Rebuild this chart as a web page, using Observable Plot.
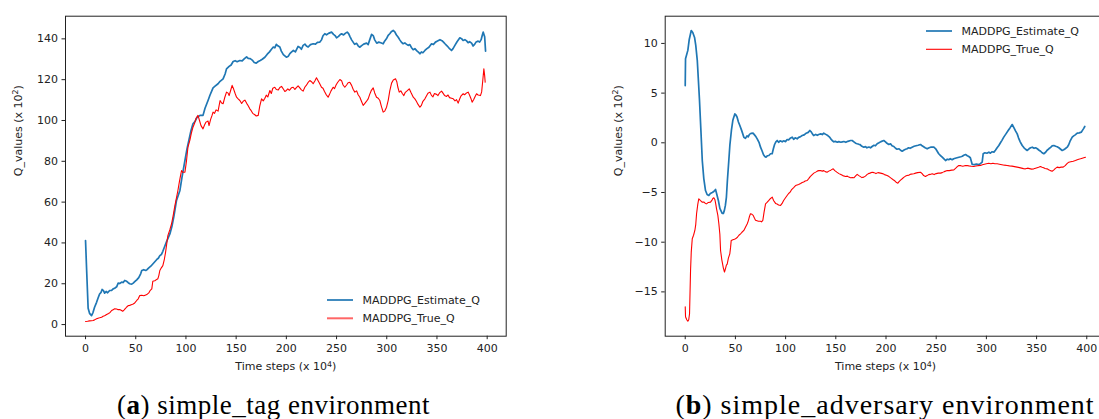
<!DOCTYPE html>
<html><head><meta charset="utf-8">
<script src="https://cdn.jsdelivr.net/npm/d3@7"></script>
<script src="https://cdn.jsdelivr.net/npm/@observablehq/plot@0.6"></script>
<style>
body{margin:0;width:1099px;height:419px;overflow:hidden;position:relative;background:#fff;font-family:"DejaVu Sans",sans-serif}
.panel{position:absolute;top:0}
.panel svg{max-width:none !important}
.cap{position:absolute;font-family:"Liberation Serif",serif;white-space:nowrap;transform:translateX(-50%);color:#000;line-height:30px}
</style></head><body>
<div id="pa" class="panel" style="left:0;width:549px"></div>
<div id="pb" class="panel" style="left:600px;width:520px"></div>
<div class="cap" style="left:273.5px;top:390px;font-size:27px;letter-spacing:0.5px">(<b>a</b>) simple_tag environment</div>
<div class="cap" style="left:885px;top:389.5px;font-size:28px;letter-spacing:1px">(<b>b</b>) simple_adversary environment</div>
<script>
const seriesNames = ["MADDPG_Estimate_Q", "MADDPG_True_Q"];
const xTicks = [0, 50, 100, 150, 200, 250, 300, 350, 400];
const tagYTicks = [0, 20, 40, 60, 80, 100, 120, 140];
const advYTicks = [-15, -10, -5, 0, 5, 10];
const xLabelParts = ["Time steps (x 10", "4", ")"];
const yLabelParts = ["Q_values (x 10", "2", ")"];

const tagEstimate = [[0,41.2],[1,28],[2.6,8],[4,5.5],[6,4.4],[7.5,6],[9,8.5],[11,10.9],[12.5,13],[14,15],[15.5,15.8],[16.5,17.2],[18,16.5],[19,15.4],[20.5,16.2],[22,15.6],[24,16.7],[26,16.8],[27.5,17.5],[29,17.8],[31,18.5],[32.5,20.3],[34,20.1],[36,20.8],[37.5,20.6],[39,21.6],[41,21.2],[42.5,20.5],[44,20],[46,19.8],[47.5,20.3],[49,21],[51,21.9],[53,23],[55,25],[56,26.5],[58,26.9],[60,26.5],[61,26.8],[63,27.8],[65,28.6],[67,29.7],[69,30.8],[71,31.9],[72.5,32.5],[74,33.8],[75.5,34.3],[77,35.9],[79,38.5],[81,41],[84,44.4],[86,48],[88,53],[90.6,60.8],[94,65.7],[96,72],[99,80.4],[101,86],[103,90.5],[105,95],[107,98.4],[109,99.5],[111,101.5],[114,102.5],[117,102.5],[119,106],[122,109.8],[124,112.5],[127,116],[129,116.8],[132,118],[134,119.2],[137,120.4],[139,122.8],[140.4,125.3],[143,126.5],[145,127.2],[147,128.9],[149,129.3],[151,128.8],[153.7,129.4],[156,129.2],[158,130.2],[160.4,131.2],[162,130.4],[164,130.3],[166,129.6],[168,128.4],[170,128.1],[172,128.9],[174,129.4],[176,130],[178.6,131],[181,132.5],[183,133.5],[185,134.8],[187,136],[188.5,135.6],[190,137.3],[191.5,136.6],[193.5,136],[195,134],[197,132.3],[200,131],[202,131.5],[203.5,132.8],[205,133.5],[207,134.3],[209,133.6],[211.7,136.3],[213.5,135.8],[215,134.9],[216.7,136.8],[218.5,137.4],[220,136.5],[221.7,136],[224,137.2],[226.7,137.6],[229,137.4],[231,138.3],[233.4,138.4],[235,139.5],[236.5,141.5],[238.3,142.5],[240,142],[242,142.7],[245,143.3],[247,142.2],[248.5,141.6],[250,140.5],[252,141.2],[253.5,142],[255,142.5],[257,141.9],[259,142.8],[260.6,143.3],[262,142.6],[263.5,141],[265,139.5],[266.5,138.4],[268,137.3],[270,137.8],[271.5,136.6],[273,135.9],[275,136.7],[277,137.4],[279.9,137.9],[281.5,137.2],[283,139.5],[284.9,142.2],[286.5,141.6],[288,139.5],[290,137.9],[292,138.4],[294,138.1],[296.4,137.6],[298,139],[300,140.3],[301.4,141.7],[303,142.5],[304.5,143.5],[306.4,144.1],[308,143.4],[309.5,142],[311.4,140.8],[313,139.5],[314.5,138.4],[316.3,137.6],[318,138],[319.5,137.4],[321.3,136.8],[323,137.2],[324.5,135.8],[326.3,134.7],[328,135.2],[330,134.1],[331.5,133.5],[333,132.7],[334.5,133.6],[336,133.2],[338,134.3],[340,135.2],[342,135.9],[344.6,137.6],[346.5,137.2],[348.5,138.4],[350.5,138.9],[353,139.6],[355,139.1],[356.5,138.4],[358,137.6],[360,136.6],[362,135.5],[364.5,134.3],[366,135.2],[368,136.9],[370,138.6],[372.8,140.5],[374.5,140.1],[376,139.2],[377.8,139.6],[379.5,139],[381,138.1],[382.5,138.6],[384.5,137.9],[386,136.5],[387.5,137.3],[389,138.5],[391,138.9],[392.5,138.4],[394,139.6],[395,141.5],[396,143.3],[397.5,141],[398.4,134]];

const tagTrue = [[0,1.5],[2,1.6],[4,1.8],[6,1.9],[7.6,2],[9,2.3],[11,2.8],[12.5,3.1],[14,3.3],[16,3.6],[17.5,4.1],[19,4.3],[21,4.9],[23,5.4],[24.5,6],[26,6.9],[27.5,7.3],[29,7.7],[31,7.6],[32.5,7.3],[34,7.4],[35.5,7],[37,6.5],[38.5,7.2],[40,8],[41,8.6],[42.5,9.3],[44,9.4],[45.5,9.7],[47.5,10.1],[49,10.6],[51,11.8],[52.5,12.6],[54,14.2],[56,14.4],[58,14.1],[60,14.5],[61,14.7],[63,15.5],[64.5,16.8],[66,17.5],[67,21.2],[69,21.5],[70.5,22],[72,22.4],[73,24],[74,26.5],[75.5,27.8],[77,28.9],[78.5,32],[79.7,35.4],[81,40],[82,43.6],[84,46.5],[85.7,49.4],[87.5,54],[89,58.3],[90.5,62],[92,65.7],[93.5,70],[95,74],[95.6,75.5],[97,74.6],[99,74.7],[100.5,80],[102,86.9],[104,90.5],[105.5,94],[107,96.7],[108.5,98.5],[110,101],[112,102.5],[113.5,100],[115,97.5],[117,95.9],[118.5,97.8],[120,99.2],[122,99.7],[123,97.5],[124.5,100.4],[126,102.5],[127,104.1],[128.5,103.5],[130,105.2],[132,104.6],[134,109.8],[135.5,108.6],[137,108.2],[138.5,111],[140.4,113.9],[142,113.4],[143,112.2],[144.5,114.7],[146,117.2],[147.5,115.4],[149,113.2],[150.4,111.4],[152,110.6],[153.7,109.8],[155.5,108.3],[157,109.4],[158.7,110],[160.5,108.4],[162,107.2],[163.6,105.7],[165,104.8],[166.5,103.5],[168.6,102.8],[170,102.2],[172,102.5],[173.5,107],[175.3,110.6],[177,109.6],[178.6,110.9],[180,112.4],[181.5,111.5],[183.6,114.7],[185,113.2],[186.5,115.8],[188.5,116.3],[190,115.2],[192,115],[193.5,116.2],[195.2,116.7],[197,115.4],[198.5,114.2],[200,114.7],[201.5,115.5],[203,114.8],[205,116],[206.8,116.3],[208.5,115.2],[210,116.1],[211.7,117],[213,116.2],[215,115],[216.7,114.4],[218.5,116.4],[220,117.3],[221.5,118.5],[223.4,119.6],[225,119],[226.7,118],[228.5,119.5],[230,120.9],[231.5,119.6],[233,118.2],[235,116.3],[236.5,115.8],[238,114.2],[239.5,112.8],[241.6,111.4],[243,112.8],[244.5,114.5],[246.6,116.3],[248,115.6],[249.5,117.4],[251,118.6],[253.3,120.1],[255,119.5],[256.5,117.4],[258.2,116.3],[260,117.4],[261.5,118.5],[263.2,118.7],[265,117.2],[266.5,115.3],[268.2,113.9],[270,114.5],[271.5,112.6],[273.2,111.4],[275,109.2],[276.5,107.4],[278,108.3],[279.5,109.2],[281.5,110.6],[283,112.8],[284.5,114.6],[286.5,116],[288,113.5],[289.8,111.4],[291.5,110.9],[293.1,109.8],[294.5,107.2],[296.4,104.1],[298,104.6],[299.8,106.5],[301.5,110],[303,114.5],[304.8,118.3],[306.5,119.8],[308.8,120.4],[310,119],[311,116.4],[312.4,113.9],[314,114.5],[315.5,113.2],[317,112.2],[318.5,113.8],[320.5,114.6],[322.4,115.5],[324,113.8],[326.4,111.4],[328,110.6],[329.5,109.4],[331,108],[333,106.5],[334.5,107.4],[336,109.4],[338,110.6],[339.5,112],[341,113.3],[343,113.9],[344.5,112.3],[346,111.6],[347.5,113.2],[349.6,112.8],[351,112.2],[352.5,113.5],[354.6,114.4],[356,113.4],[357.5,112.3],[359.6,111.8],[361,112.5],[362.5,111.2],[364.5,110.9],[366.2,110.6],[368,109.6],[369.5,110.2],[371.1,108.5],[372.5,110.4],[374,112.1],[376.1,113.1],[377.5,112.6],[379,113.3],[381.1,113.9],[382.5,112.4],[383.8,110.8],[385,109],[386.5,110.2],[388,111.8],[389.4,113.1],[391,112.5],[393.3,112.2],[394.5,114],[395.5,119],[396.7,125.3],[397.5,122],[398,118.8]];

const advEstimate = [[0,5.76],[0.3,8.45],[2.6,9.3],[4,10.4],[6,11.3],[7.5,11.1],[9.3,10.6],[10.5,9.8],[12,8.3],[13,6.5],[14.2,4.3],[15.5,1.5],[17,-1.8],[18.5,-3.6],[20.2,-4.8],[21.8,-5.2],[23.5,-5.3],[25,-5.1],[26.9,-5.0],[28.5,-4.9],[30.2,-4.7],[31.5,-5.2],[33,-5.8],[34.5,-6.6],[36.8,-7.1],[38,-7.1],[39,-6.8],[40,-6.3],[41,-5.5],[42,-3.8],[43.4,-1.8],[44.5,-0.2],[46,1.24],[47.5,2.3],[49.4,2.9],[50.5,2.8],[51.6,2.6],[53,2.1],[54.4,1.74],[56,1.3],[57,1.0],[58.4,0.56],[60,0.45],[61.5,0.7],[62.7,0.6],[64,0.85],[65.5,0.95],[67.7,0.97],[69,0.8],[70.5,0.6],[71.7,0.4],[73.5,0.05],[75,-0.44],[76.5,-0.8],[78,-1.2],[79.3,-1.38],[80.5,-1.45],[82,-1.3],[83.3,-1.28],[85,-1.1],[86.6,-1.1],[87.8,-0.6],[89,-0.17],[90.3,0.1],[91.6,0.23],[93,0.05],[94.5,0.2],[96.6,0.1],[98,0.2],[100,0.12],[101.5,0.33],[103,0.3],[104.5,0.45],[106.6,0.57],[108,0.35],[109.5,0.5],[111.5,0.4],[113,0.55],[114.5,0.6],[116.5,0.73],[118.5,0.8],[120.5,0.97],[122.5,1.05],[124.1,1.24],[125.5,1.1],[127,0.85],[128,0.73],[130,0.85],[131.5,0.75],[133,0.84],[135,0.9],[136.5,0.83],[138,0.97],[140,0.85],[142,0.73],[143.5,0.6],[145,0.4],[146.4,0.23],[148,0.1],[149.5,0.15],[151.4,0.06],[153,0.12],[155,0.06],[156.5,0.1],[158,0.13],[160,0.05],[162,0.15],[164.7,0.23],[166.3,0.23],[168,0.1],[169.7,-0.04],[171.3,-0.1],[173,-0.15],[174,-0.17],[176,-0.35],[177.9,-0.44],[179.5,-0.38],[181,-0.5],[183,-0.42],[184.6,-0.5],[186.5,-0.35],[188,-0.25],[189.5,-0.3],[191.2,-0.1],[193,0],[195,0.12],[197.8,0.23],[199.5,0.1],[201,-0.05],[202.8,-0.17],[204.5,-0.1],[206,-0.3],[207.8,-0.37],[209.5,-0.55],[211,-0.65],[213,-0.6],[214.5,-0.75],[216.1,-0.84],[218,-0.72],[219.5,-0.65],[221,-0.6],[222.5,-0.5],[224,-0.55],[226,-0.44],[228,-0.35],[230,-0.3],[232,-0.25],[234.4,-0.17],[236,-0.3],[237.5,-0.4],[239,-0.5],[241,-0.6],[243,-0.5],[245,-0.42],[247.7,-0.44],[249.5,-0.6],[251,-0.85],[252.5,-1.1],[254.3,-1.28],[256,-1.45],[257.5,-1.6],[259.3,-1.78],[261,-1.65],[262.5,-1.7],[264,-1.6],[265.9,-1.7],[267.5,-1.6],[269,-1.55],[270.8,-1.5],[272.6,-1.45],[274.5,-1.4],[276,-1.35],[277.5,-1.25],[279.2,-1.18],[281,-1.3],[282.5,-1.38],[284,-1.5],[285.9,-2.18],[288,-2.2],[290,-2.15],[292.5,-2.18],[294,-2.1],[295.8,-1.95],[296.8,-1.1],[298.5,-1.0],[300.5,-1.05],[302.5,-0.94],[304,-1.05],[305.5,-0.9],[307.5,-0.94],[309,-0.75],[310.7,-0.5],[312.4,-0.27],[314,0],[315.5,0.25],[317.3,0.57],[319.5,0.9],[321.7,1.24],[323.5,1.5],[325.7,1.84],[327.5,1.5],[329,1.2],[330.7,0.9],[332,0.5],[333.7,0.1],[335.7,-0.27],[337.5,-0.5],[339,-0.65],[340.7,-0.77],[342.5,-0.6],[344,-0.5],[345.7,-0.44],[347.5,-0.55],[349,-0.5],[350.7,-0.6],[352.5,-0.75],[354,-0.85],[355.5,-1.0],[357.2,-1.1],[359,-0.95],[360.5,-0.75],[362.2,-0.6],[364,-0.45],[365.5,-0.3],[367.2,-0.27],[369,-0.35],[370.5,-0.4],[372.2,-0.5],[374,-0.65],[375.5,-0.77],[377,-0.7],[378.5,-0.6],[380.5,-0.44],[382,-0.2],[383.5,0.2],[385.5,0.57],[387,0.7],[388.5,0.8],[390.5,0.97],[392.5,1.0],[394.5,1.07],[396,1.3],[397,1.45],[398,1.64]];

const advTrue = [[0,-16.5],[0.3,-17.5],[1.5,-17.8],[2.6,-17.95],[3.5,-17.8],[4.3,-17.2],[5.3,-12.85],[6,-11],[7,-9.66],[8.3,-9.3],[9.6,-8.82],[10.5,-8.2],[11.3,-7.14],[12.5,-6.2],[13.5,-5.63],[15,-5.8],[16.8,-5.97],[18.5,-5.95],[20,-6.1],[21.2,-6.14],[23,-6.0],[25.2,-5.97],[26.5,-5.8],[27.5,-5.6],[28.5,-5.53],[29.5,-5.7],[30.3,-6.1],[31.2,-6.64],[32.5,-7.3],[33.5,-8.15],[34.5,-9.2],[35.2,-10.84],[36.5,-11.8],[38,-12.6],[39.1,-13.0],[40,-12.7],[41,-12.3],[41.8,-12.2],[43,-11.6],[44.4,-11.17],[45.2,-10.5],[45.8,-9.83],[47.5,-9.75],[49,-9.7],[50.1,-9.66],[52,-9.5],[53.5,-9.3],[55.1,-9.16],[56.5,-9.0],[58.4,-8.82],[60,-8.5],[61.8,-8.15],[63,-7.8],[64,-7.4],[65,-7.14],[66.5,-7.2],[67.7,-7.3],[69,-7.6],[70,-7.8],[71.5,-7.85],[73,-7.9],[75,-7.9],[76,-7.95],[77.3,-7.8],[78.5,-7.0],[80,-6.14],[81.5,-6.0],[83.3,-5.8],[85,-5.6],[86.7,-5.47],[88,-5.8],[90,-6.1],[91.5,-6.15],[93,-6.25],[95,-6.3],[96.5,-6.1],[98,-5.8],[99.9,-5.53],[101.5,-5.3],[103,-5.1],[104.5,-4.97],[106,-4.7],[108,-4.5],[109.9,-4.3],[111.5,-4.25],[113,-4.2],[114.9,-4.1],[116.5,-4.0],[118,-3.95],[119.5,-3.85],[121.5,-3.79],[123,-3.6],[124.5,-3.4],[126,-3.25],[128.1,-3.05],[130,-2.95],[131.5,-2.85],[133,-2.8],[134.7,-2.79],[136.5,-2.85],[138,-2.8],[139.5,-2.9],[141.3,-2.96],[143,-2.85],[145,-2.75],[147.4,-2.62],[149,-2.8],[151,-2.95],[153.1,-3.1],[155,-3.2],[157,-3.3],[159.7,-3.39],[161.5,-3.35],[163,-3.45],[164.6,-3.52],[166.5,-3.5],[168,-3.52],[170,-3.3],[171.3,-3.18],[173,-3.3],[174.5,-3.4],[176,-3.5],[177.9,-3.45],[179.5,-3.35],[181,-3.2],[182.5,-3.1],[184,-3.05],[186.2,-2.96],[188,-3.0],[190,-3.1],[192,-3.0],[194.5,-3.05],[196.5,-3.1],[198.5,-3.2],[201.1,-3.29],[203,-3.4],[205,-3.55],[207.2,-3.72],[209,-3.85],[210.5,-4.0],[211.8,-4.06],[213,-3.9],[214.5,-3.75],[216.1,-3.62],[218,-3.45],[219.5,-3.35],[221,-3.29],[223,-3.25],[225,-3.15],[227.7,-3.12],[229.5,-3.05],[231.5,-3.0],[234.4,-2.96],[236,-3.1],[237.5,-3.3],[239.3,-3.39],[241,-3.3],[242.5,-3.2],[244,-3.18],[246,-3.12],[248,-3.2],[250,-3.1],[252,-3.05],[254.3,-3.05],[256,-3.0],[258,-2.9],[261,-2.79],[263,-2.8],[265.5,-2.75],[267.6,-2.72],[269.5,-2.55],[271,-2.4],[272.5,-2.28],[274.5,-2.3],[276.5,-2.35],[278.5,-2.3],[280.8,-2.28],[282.5,-2.32],[285,-2.36],[287.5,-2.38],[289.5,-2.34],[291.5,-2.3],[294.1,-2.28],[296,-2.2],[298,-2.15],[300,-2.1],[302.4,-2.05],[304.5,-2.1],[306.5,-2.05],[308.5,-2.1],[310.7,-2.11],[313,-2.15],[315.5,-2.2],[318,-2.25],[320.6,-2.28],[323,-2.32],[325.5,-2.35],[328,-2.4],[330.6,-2.45],[333,-2.5],[335,-2.55],[337,-2.6],[338.9,-2.62],[341,-2.55],[343,-2.6],[345,-2.65],[347.2,-2.62],[349,-2.55],[350.5,-2.5],[352,-2.45],[353.8,-2.38],[355.5,-2.45],[357,-2.5],[358.5,-2.58],[360.5,-2.62],[362,-2.7],[363.8,-2.8],[365.5,-2.86],[367,-2.75],[368.5,-2.6],[370.5,-2.45],[372.5,-2.5],[374.5,-2.45],[376.5,-2.45],[378.5,-2.3],[380.3,-2.1],[382.1,-1.95],[384,-1.9],[386.5,-1.85],[388.7,-1.78],[390.5,-1.7],[392,-1.65],[393.7,-1.61],[395.5,-1.55],[397,-1.5],[398.7,-1.45]];

const BLUE = "#1f77b4", RED = "#ff0000", INK = "#222";
const FS = 11;

function withSuperscript(svg, parts) {
  const joined = parts.join("");
  d3.select(svg).selectAll("text").filter(function () { return this.textContent === joined; })
    .each(function () {
      const t = d3.select(this);
      t.text(null);
      t.append("tspan").text(parts[0]);
      t.append("tspan").attr("dy", "-0.45em").attr("font-size", "0.72em").text(parts[1]);
      t.append("tspan").attr("dy", "0.32em").text(parts[2]);
    });
}

function panel(cfg) {
  const svg = Plot.plot({
    width: cfg.width, height: 380,
    marginLeft: cfg.ml, marginRight: cfg.mr, marginTop: 15.7, marginBottom: 44.3,
    style: {fontFamily: "DejaVu Sans, sans-serif", fontSize: FS + "px", color: INK, background: "white", overflow: "visible", maxWidth: "none"},
    x: {domain: [-19.95, 418.95]},
    y: {domain: cfg.yDomain},
    marks: [
      Plot.line(cfg.est, {x: d => d[0], y: d => d[1], stroke: BLUE, strokeWidth: 1.7}),
      Plot.line(cfg.tru, {x: d => d[0], y: d => d[1], stroke: RED, strokeWidth: 1.1}),
      Plot.frame({stroke: INK, strokeWidth: 1}),
      Plot.axisX({ticks: xTicks, tickSize: 3.5, tickPadding: 4, label: null, fontSize: FS}),
      Plot.axisY({ticks: cfg.yTicks, tickSize: 3.5, tickPadding: 4, label: null, fontSize: FS,
                  tickFormat: d => d < 0 ? "\u2212" + Math.abs(d) : String(d)}),
      Plot.text([xLabelParts.join("")], {text: d => d, frameAnchor: "bottom", dy: 34, fontSize: FS, fill: INK}),
      Plot.text([yLabelParts.join("")], {text: d => d, frameAnchor: "left", dx: -47, rotate: -90, fontSize: FS, fill: INK})
    ]
  });
  withSuperscript(svg, xLabelParts);
  withSuperscript(svg, yLabelParts);
  const g = d3.select(svg).append("g")
    .attr("font-family", "DejaVu Sans, sans-serif").attr("font-size", FS)
    .attr("fill", INK).attr("text-anchor", "start");
  const L = cfg.legend;
  const items = [
    {name: seriesNames[0], color: BLUE, w: 1.7, op: 1},
    {name: seriesNames[1], color: RED, w: cfg.legendRedWide ? 2 : 1.1, op: cfg.legendRedOpacity}
  ];
  items.forEach((it, i) => {
    const y = L.y + i * L.dy;
    g.append("line").attr("x1", L.x).attr("x2", L.x + 26).attr("y1", y).attr("y2", y)
      .attr("stroke", it.color).attr("stroke-width", it.w).attr("stroke-opacity", it.op);
    g.append("text").attr("x", L.x + 35.5).attr("y", y).attr("dy", "0.35em").attr("text-anchor", "start").text(it.name);
  });
  return svg;
}

document.getElementById("pa").appendChild(panel({
  width: 549, ml: 65, mr: 43.3, yDomain: [-5.7, 151.1], yTicks: tagYTicks,
  est: tagEstimate, tru: tagTrue,
  legend: {x: 327, y: 300, dy: 18.3}, legendRedOpacity: 0.6, legendRedWide: true
}));
document.getElementById("pb").appendChild(panel({
  width: 520, ml: 64.7, mr: 14.7, yDomain: [-19.46, 12.74], yTicks: advYTicks,
  est: advEstimate, tru: advTrue,
  legend: {x: 326, y: 31, dy: 18.3}, legendRedOpacity: 1, legendRedWide: false
}));
</script>
</body></html>
